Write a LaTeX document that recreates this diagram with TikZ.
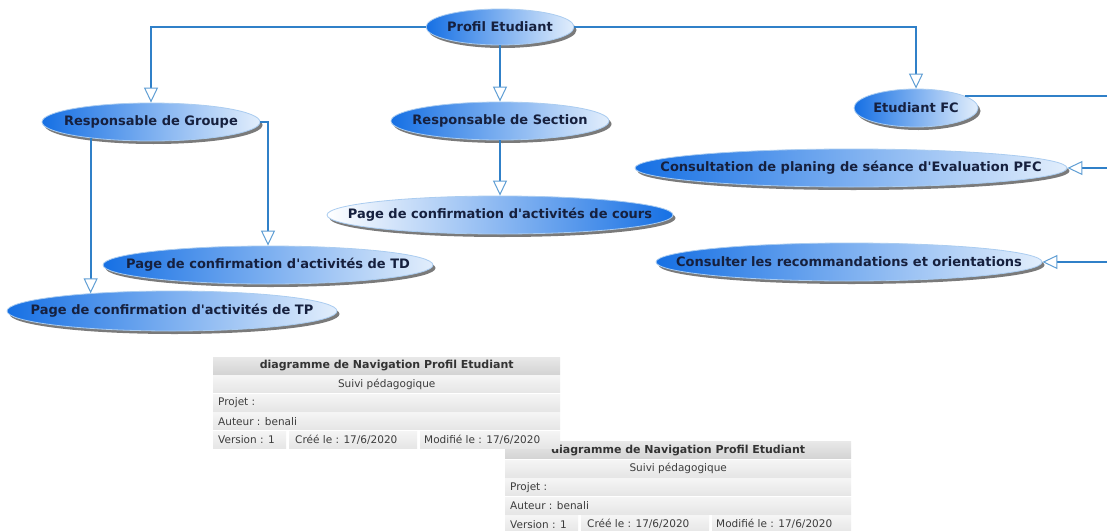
\documentclass[tikz,border=0pt]{standalone}
\usepackage{fontspec}
\newfontfamily\diagfont{DejaVu Sans}
\usetikzlibrary{shapes.geometric,arrows.meta,shadows,calc}

\definecolor{ucleft}{RGB}{22,112,228}
\definecolor{ucright}{RGB}{226,238,252}
\definecolor{ucline}{RGB}{170,204,240}
\definecolor{uctext}{RGB}{22,32,62}
\definecolor{link}{RGB}{48,128,200}
\definecolor{linktip}{RGB}{95,158,212}
\definecolor{celltext}{RGB}{60,60,60}

% zero-width label so the ellipse size is set only by its minimum size
\newcommand\flatlabel[1]{\makebox[0pt]{#1}}

\tikzset{
  usecase/.style={ellipse, inner sep=0pt, draw=ucline, line width=0.8pt,
    left color=ucleft, right color=ucright, text=uctext,
    font=\diagfont\bfseries\fontsize{13}{15}\selectfont,
    drop shadow={shadow xshift=2.5pt, shadow yshift=-3pt, fill=black!65, opacity=0.8}},
  usecase rev/.style={usecase, left color=white, right color=ucleft},
  nav/.style={draw=link, line width=2pt,
    -{Triangle[length=15pt,width=14pt,fill=white,color=linktip,line width=1pt]}},
  plain link/.style={draw=link, line width=2pt},
  headcell/.style={rectangle, inner sep=0pt, anchor=north west, minimum height=17pt,
    top color=black!9, bottom color=black!17},
  rowcell/.style={rectangle, inner sep=0pt, anchor=north west, minimum height=17pt,
    top color=black!4, bottom color=black!10},
  headtxt/.style={inner sep=0pt, text=black!80, font=\diagfont\bfseries\fontsize{11}{13}\selectfont},
  celltxt/.style={inner sep=0pt, text=celltext, font=\diagfont\fontsize{10.5}{12}\selectfont},
}

% information block: #1 = left x, #2 = top y, #3 = name prefix, #4 = total width
\newcommand\infotable[4]{%
  \node[headcell, minimum width=#4] (#3-head) at (#1,#2) {};
  \node[rowcell, minimum width=#4] (#3-suivi) at (#1,#2+18.5) {};
  \node[rowcell, minimum width=#4] (#3-projet) at (#1,#2+37) {};
  \node[rowcell, minimum width=#4] (#3-auteur) at (#1,#2+55.5) {};
  \node[rowcell, minimum width=73] (#3-version) at (#1,#2+74) {};
  \node[rowcell, minimum width=128] (#3-cree) at (#1+76,#2+74) {};
  \node[rowcell, minimum width=#4-207] (#3-modif) at (#1+207,#2+74) {};
  \node[headtxt] (#3-head-t) at (#3-head.center) {diagramme de Navigation Profil Etudiant};
  \node[celltxt] (#3-suivi-t) at (#3-suivi.center) {Suivi pédagogique};
  \node[celltxt, anchor=west] (#3-projet-t) at ($(#3-projet.west)+(5,0)$) {Projet :};
  \node[celltxt, anchor=west] (#3-auteur-t) at ($(#3-auteur.west)+(5,0)$) {Auteur : benali};
  \node[celltxt, anchor=west] (#3-version-t) at ($(#3-version.west)+(5,0)$) {Version : 1};
  \node[celltxt, anchor=west] (#3-cree-t) at ($(#3-cree.west)+(6,0)$) {Créé le : 17/6/2020};
  \node[celltxt, anchor=west] (#3-modif-t) at ($(#3-modif.west)+(4,0)$) {Modifié le : 17/6/2020};
}

\begin{document}
\begin{tikzpicture}[x=1pt,y=-1pt]
  \fill[white] (0,0) rectangle (1107,530);
  \useasboundingbox (0,0) rectangle (1107,530);
  \coordinate (edge) at (1107,0);

  % use cases
  \node[usecase, minimum width=148, minimum height=36] (pe) at (500,27) {\flatlabel{Profil Etudiant}};
  \node[usecase, minimum width=218, minimum height=38] (rg) at (151,122) {\flatlabel{Responsable de Groupe}};
  \node[usecase, minimum width=218, minimum height=38] (rs) at (500,121) {\flatlabel{Responsable de Section}};
  \node[usecase, minimum width=124, minimum height=38] (efc) at (916,108) {\flatlabel{Etudiant FC}};
  \node[usecase, minimum width=432, minimum height=38] (cp) at (851,168) {\flatlabel{Consultation de planing de séance d'Evaluation PFC}};
  \node[usecase, minimum width=386, minimum height=38] (cr) at (849,262) {\flatlabel{Consulter les recommandations et orientations}};
  \node[usecase rev, minimum width=346, minimum height=38] (co) at (500,215) {\flatlabel{Page de confirmation d'activités de cours}};
  \node[usecase, minimum width=330, minimum height=38] (td) at (268,265) {\flatlabel{Page de confirmation d'activités de TD}};
  \node[usecase, minimum width=330, minimum height=40] (tp) at (172,311) {\flatlabel{Page de confirmation d'activités de TP}};

  % navigation links
  \draw[nav] (pe.west) -| (rg.north);
  \draw[nav] (pe.south) -- (pe.south |- rs.north);
  \draw[nav] (pe.east) -| (efc.north);
  \draw[plain link] (efc.14) -- (efc.14 -| edge);
  \draw[nav] (cp.east -| edge) -- (cp.east);
  \draw[nav] (cr.east -| edge) -- (cr.east);
  \draw[nav] (rs.south) -- (rs.south |- co.north);
  \draw[nav] (rg.east) -| (td.north);
  \draw[nav] (rg.195) -- (rg.195 |- tp.168);

  % information blocks (the lower one lies partly under the upper one)
  \infotable{505}{441.5}{infob}{346}
  \infotable{213}{357}{infoa}{347}
\end{tikzpicture}
\end{document}
